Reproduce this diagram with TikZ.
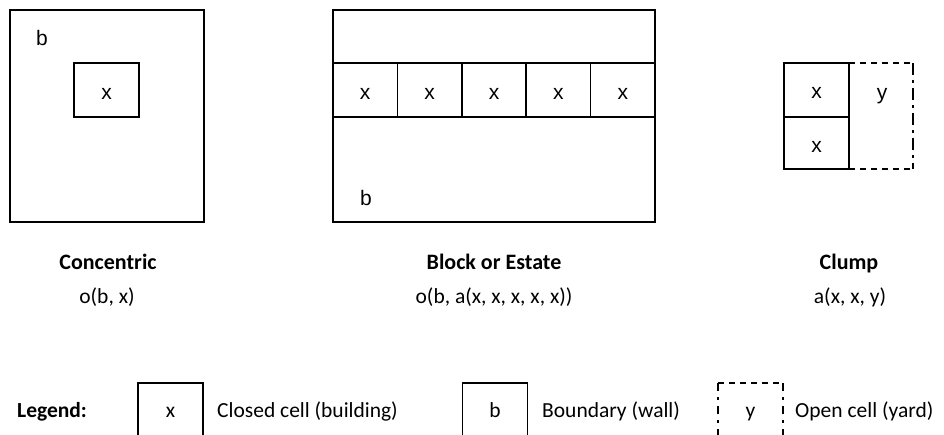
\documentclass[tikz,border=0pt]{standalone}
\usepackage{fontspec}
\setmainfont{Carlito}
\newfontfamily\arialf{Liberation Sans}
\begin{document}
\begin{tikzpicture}[x=1pt,y=-1pt,
  cellbox/.style={draw,line width=1.6pt,inner sep=0pt},
  wallbox/.style={draw,line width=1.6pt,inner sep=0pt},
  celltext/.style={inner sep=0pt,anchor=base,font=\arialf\fontsize{21}{24}\selectfont},
  title/.style={inner sep=0pt,anchor=base,font=\bfseries\fontsize{22}{26}\selectfont},
  formula/.style={inner sep=0pt,anchor=base,font=\fontsize{21.5}{26}\selectfont},
  legtext/.style={inner sep=0pt,anchor=base west,font=\fontsize{21.5}{26}\selectfont},
  legchar/.style={inner sep=0pt,anchor=base,font=\fontsize{21.5}{26}\selectfont},
  legbox/.style={draw,line width=1.3pt,inner sep=0pt,minimum width=65pt,minimum height=90pt},
  opendash/.style={line width=1.6pt,dash pattern=on 6pt off 5pt},
  opendashdot/.style={line width=1.6pt,dash pattern=on 12pt off 5pt on 3pt off 5pt}]
\clip (0,0) rectangle (944,434);
\fill[white] (0,0) rectangle (944,434);
% Concentric
\node[wallbox,minimum width=194pt,minimum height=212pt] (cb) at (107,116) {};
\node[celltext] (cbl) at (42,45) {b};
\node[cellbox,minimum width=65pt,minimum height=54pt] (cx) at (106.5,90) {};
\node[celltext] (cxl) at (106.5,99) {x};
\node[title] (ct) at (108,269) {Concentric};
\node[formula] (cf) at (107,303) {o(b, x)};
% Block
\node[wallbox,minimum width=322pt,minimum height=212pt] (bb) at (494,116) {};
\foreach \i in {0,...,4}{
  \node[cellbox,minimum width=64.4pt,minimum height=54pt] (bx\i) at ({333+32.2+64.4*\i},90) {};
  \node[celltext] (bxl\i) at ({333+32.2+64.4*\i},99) {x};
}
\node[celltext] (bbl) at (366,205) {b};
\node[title] (bt) at (494,269) {Block or Estate};
\node[formula] (bf) at (494,303) {o(b, a(x, x, x, x, x))};
% Clump
\node[cellbox,minimum width=65pt,minimum height=54pt] (kx1) at (816.5,90) {};
\node[cellbox,minimum width=65pt,minimum height=52pt] (kx2) at (816.5,143) {};
\node[celltext] (kxl1) at (816.5,98) {x};
\node[celltext] (kxl2) at (816.5,152) {x};
\node[celltext] (ky) at (882,99) {y};
\coordinate (ya) at (849,63);
\coordinate (yb) at (913,63);
\coordinate (yc) at (913,169);
\coordinate (yd) at (849,169);
\draw[opendash] (ya) -- (yb);
\draw[opendashdot] (yb) -- (yc);
\draw[opendash] (yd) -- (yc);
\node[title] (kt) at (849,269) {Clump};
\node[formula] (kf) at (850,303) {a(x, x, y)};
% Legend
\node[inner sep=0pt,anchor=base west,font=\bfseries\fontsize{21.5}{26}\selectfont] (lg) at (17,417) {Legend:};
\node[legbox] (lx) at (170.5,428) {};
\node[legchar] (lxt) at (170.5,417) {x};
\node[legtext] (lxd) at (217,417) {Closed cell (building)};
\node[legbox] (lb) at (495,428) {};
\node[legchar] (lbt) at (495,417) {b};
\node[legtext] (lbd) at (542,417) {Boundary (wall)};
\coordinate (la) at (718,383);
\coordinate (lbb) at (783,383);
\coordinate (lc) at (718,440);
\coordinate (ld) at (783,440);
\draw[line width=1.3pt,dash pattern=on 6pt off 5pt] (la) -- (lbb);
\draw[line width=1.3pt,dash pattern=on 8pt off 6pt on 3pt off 6pt] (la) -- (lc);
\draw[line width=1.3pt,dash pattern=on 8pt off 6pt on 3pt off 6pt] (lbb) -- (ld);
\node[legchar] (lyt) at (750.5,417) {y};
\node[legtext] (lyd) at (795,417) {Open cell (yard)};
\end{tikzpicture}
\end{document}
